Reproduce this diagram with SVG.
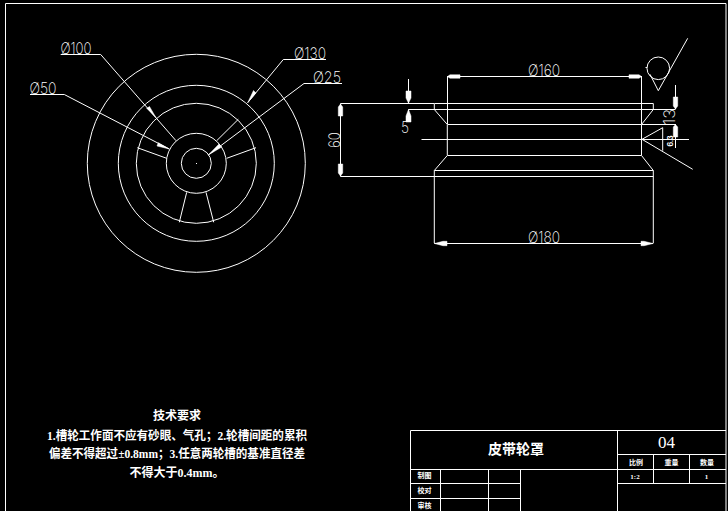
<svg xmlns="http://www.w3.org/2000/svg" width="728" height="511" viewBox="0 0 728 511">
<style>
.l{fill:none;stroke:#fff;stroke-width:1}
.a{fill:#fff;stroke:#fff;stroke-width:.5}
.d{font-family:"Inter","Liberation Sans",sans-serif;font-size:16px;fill:#fff;font-weight:200;text-anchor:middle}
.c{font-family:"Liberation Serif","Noto Sans CJK SC",serif;fill:#fff;text-anchor:middle}
.s{font-size:7px;font-weight:700}
.t{font-size:12px;font-weight:700}
</style>
<rect width="728" height="511" fill="#000"/>
<g id="frame"><path class="l" d="M5.5 511V3.5H726V511"/></g>
<g id="front-view">
<circle class="l" cx="196.3" cy="163.3" r="109"/>
<circle class="l" cx="196.3" cy="163.3" r="78"/>
<circle class="l" cx="196.3" cy="163.3" r="60"/>
<circle class="l" cx="196.3" cy="163.3" r="30"/>
<circle class="l" cx="196.3" cy="163.3" r="15"/>
<rect x="196" y="163" width="1" height="1" fill="#fff"/>
<path class="l" d="M216.7 140.7L238.3 119.3M166.7 158.3L137.3 147.7M226.7 158.3L256 147.7M186.7 192.3L179.3 222.3M206 192.3L213.7 222.3"/>
</g>
<g id="side-view">
<path class="l" d="M434.3 103.5H653.3M434.3 103.5V109.5L447.3 124.5V155.5L434.3 170.5V243M653.3 103.5V109.5L641.5 124.5V155.5L653.3 170.5V243M447.5 124.5H641.5M447.5 155.5H641.5M434.3 170.5H653.3M447.5 76V124M641.5 76V124"/>
<path class="l" d="M421.5 139.5H689"/>
</g>
<g id="connectors">
<path class="l" d="M447.5 76.5H641.5M434.3 243.5H653.3M340.5 103.5H434M340.5 176.5H653.3M340.5 103.5V176.5M408.5 79V103M408.5 109.5H675.5M408.5 109.5V122M641.5 124.5H675.5M675.5 85V109M675.5 124V148"/>
<path class="l" d="M60.7 54.5H100.7L176 140.7M30 94.5H64.3L169.3 149M283.3 59.5H326M283.3 59.5L247.7 102.7M304 83.5H342M304 83.5L208.3 155"/>
<path class="a" d="M447.5 76.5L450 74.8H460V78.2H450ZM641.5 76.5L639 74.8H629V78.2H639ZM434.5 243.5L443 241.3H447V245.7H443ZM653 243.5L644 241.3H641V245.7H644Z"/>
<path class="a" d="M408.5 103L406 98V91H411V98ZM408.5 109.5L406 116V122H411V116ZM340.5 104L338.3 107V116H342.7V107ZM340.5 176L338.3 173V164H342.7V173ZM675.5 109L673.3 106V97H677.7V106ZM675.5 124.5L673.3 127V137H677.7V127Z"/>
<path class="a" d="M156 117.7L146.7 108.3L149.5 106.5ZM247.7 102.7L253.5 90.5L256 93ZM208.3 155L219 144L221.7 147ZM169.3 149L158.3 142.7L157 146Z"/>
</g>
<g id="roughness">
<circle class="l" cx="658.3" cy="68.3" r="11.3"/>
<path class="l" d="M650 74.3L658.3 90.7L687.7 38.3M645.5 67.5L647 67.5M642 139.3L662.7 127.7V150.7M642 139.3L692.7 169.3"/>
</g>
<g id="labels">
<text class="d" x="544" y="76" textLength="32" lengthAdjust="spacingAndGlyphs">Ø160</text>
<text class="d" x="544" y="243" textLength="32" lengthAdjust="spacingAndGlyphs">Ø180</text>
<text class="d" x="76" y="54" textLength="31" lengthAdjust="spacingAndGlyphs">Ø100</text>
<text class="d" x="43" y="94" textLength="27" lengthAdjust="spacingAndGlyphs">Ø50</text>
<text class="d" x="310" y="59" textLength="32" lengthAdjust="spacingAndGlyphs">Ø130</text>
<text class="d" x="327" y="83" textLength="28" lengthAdjust="spacingAndGlyphs">Ø25</text>
<text class="d" x="405" y="133" textLength="8" lengthAdjust="spacingAndGlyphs">5</text>
<text class="d" transform="translate(340 140) rotate(-90)" textLength="16" lengthAdjust="spacingAndGlyphs">60</text>
<text class="d" transform="translate(675 117) rotate(-90)" textLength="16" lengthAdjust="spacingAndGlyphs">13</text>
<text class="d" transform="translate(673 141) rotate(-90)" style="font-size:7px;font-weight:700">6.3</text>
<text class="c t" x="177" y="420">技术要求</text>
<text class="c t" x="177" y="440" textLength="260" lengthAdjust="spacingAndGlyphs">1.槽轮工作面不应有砂眼、气孔；2.轮槽间距的累积</text>
<text class="c t" x="177" y="458" textLength="256" lengthAdjust="spacingAndGlyphs">偏差不得超过±0.8mm；3.任意两轮槽的基准直径差</text>
<text class="c t" x="177" y="477">不得大于0.4mm。</text>
</g>
<g id="title-block">
<path class="l" d="M410.5 511V430.5H726M410.5 469.5H726M617.5 430.5V511M617.5 454.5H726M653.5 454.5V483.5M689.5 454.5V483.5M617.5 483.5H726M410.5 483.5H520.5M410.5 498.5H520.5M440.5 469.5V511M488.5 469.5V511M520.5 469.5V511"/>
<text class="c" x="516" y="454" font-size="14" font-weight="700">皮带轮罩</text>
<text class="c" x="666.5" y="448" font-size="17">04</text>
<text class="c s" x="636" y="465">比例</text>
<text class="c s" x="671.500" y="465">重量</text>
<text class="c s" x="707" y="465">数量</text>
<text class="c s" x="635" y="479">1:2</text>
<text class="c s" x="706.500" y="479">1</text>
<text class="c s" x="424.500" y="478">制图</text>
<text class="c s" x="424.500" y="493">校对</text>
<text class="c s" x="424.500" y="508">审核</text>
</g>
</svg>
